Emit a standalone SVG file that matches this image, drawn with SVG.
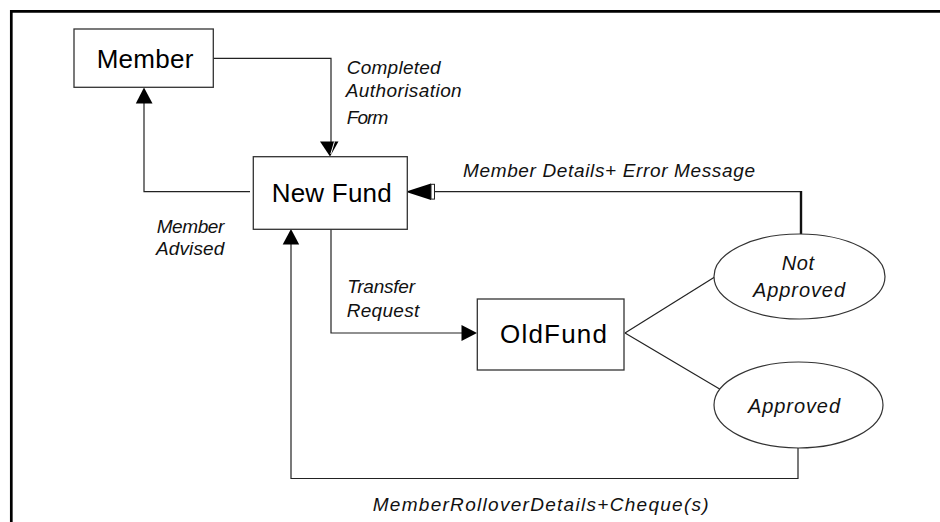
<svg xmlns="http://www.w3.org/2000/svg" width="940" height="522" viewBox="0 0 940 522">
  <style>
    .frame { fill: none; stroke: #000; stroke-width: 2.7; }
    .box { fill: #fff; stroke: #333; stroke-width: 1.3; }
    .oval { fill: #fff; stroke: #333; stroke-width: 1.2; }
    .wire { fill: none; stroke: #222; stroke-width: 1.2; }
    .head { fill: #000; stroke: none; }
    .name { font-family: "Liberation Sans", Arial, sans-serif; font-size: 26px; fill: #000; }
    .flow { font-family: "Liberation Sans", Arial, sans-serif; font-size: 19px; font-style: italic; fill: #111; }
    .state { font-family: "Liberation Sans", Arial, sans-serif; font-size: 20px; font-style: italic; fill: #111; }
  </style>

  <!-- outer frame (top and left edges only) -->
  <path class="frame" d="M11.3,522 V11.3 H940"/>

  <!-- connectors -->
  <g id="connectors">
    <!-- Member -> New Fund -->
    <path class="wire" d="M213,58.3 H331 V142"/>
    <polygon class="head" points="320,141.5 338.5,141.5 330,156.5"/>
    <line x1="334.5" y1="141.5" x2="330.8" y2="154" stroke="#fff" stroke-width="1"/>

    <!-- New Fund -> Member -->
    <path class="wire" d="M250,191.7 H144 V103"/>
    <polygon class="head" points="144,87.5 135.8,103.5 152.5,103.5"/>

    <!-- New Fund -> OldFund -->
    <path class="wire" d="M331,229 V333 H462"/>
    <polygon class="head" points="477,333 461.5,325 461.5,341"/>

    <!-- Not Approved -> New Fund -->
    <path class="wire" d="M801,191.7 H434"/>
    <line x1="801" y1="191" x2="801" y2="234" stroke="#111" stroke-width="2.4"/>
    <polygon class="head" points="405.5,191.7 431,183.5 431,200"/>
    <rect x="431" y="184.3" width="3.5" height="14.8" fill="#fff" stroke="#222" stroke-width="1"/>

    <!-- Approved -> New Fund -->
    <path class="wire" d="M798,448 V478.5 H291 V244"/>
    <polygon class="head" points="291,229 282.7,244.5 299.2,244.5"/>

    <!-- OldFund to outcomes -->
    <line class="wire" x1="625" y1="333" x2="714.3" y2="277.3"/>
    <line class="wire" x1="625" y1="333" x2="720" y2="389.3"/>
  </g>

  <!-- nodes -->
  <g id="member">
    <rect class="box" x="74" y="29" width="139.3" height="58.3"/>
    <text class="name" x="96.7" y="68.3" textLength="96.6">Member</text>
  </g>

  <g id="new-fund">
    <rect class="box" x="253.3" y="156.7" width="154" height="72.6"/>
    <text class="name" x="271.7" y="202" textLength="120">New Fund</text>
  </g>

  <g id="old-fund">
    <rect class="box" x="477.3" y="299" width="146.7" height="71"/>
    <text class="name" x="500" y="343" textLength="107">OldFund</text>
  </g>

  <g id="not-approved">
    <ellipse class="oval" cx="799.5" cy="276.5" rx="85.5" ry="42.5"/>
    <text class="state" x="781.7" y="270" textLength="32.3">Not</text>
    <text class="state" x="753" y="297" textLength="92">Approved</text>
  </g>

  <g id="approved">
    <ellipse class="oval" cx="798.5" cy="405" rx="84.5" ry="43"/>
    <text class="state" x="748" y="413" textLength="92">Approved</text>
  </g>

  <!-- flow labels -->
  <g id="labels">
    <text class="flow" x="346.7" y="74" textLength="94">Completed</text>
    <text class="flow" x="345.7" y="97.3" textLength="116">Authorisation</text>
    <text class="flow" x="346.7" y="124" textLength="41.6">Form</text>
    <text class="flow" x="156.7" y="233.3" textLength="67.6">Member</text>
    <text class="flow" x="156" y="255" textLength="68.3">Advised</text>
    <text class="flow" x="463" y="176.7" textLength="292">Member Details+ Error Message</text>
    <text class="flow" x="347.3" y="293.3" textLength="67.7">Transfer</text>
    <text class="flow" x="346.7" y="316.7" textLength="72.6">Request</text>
    <text class="flow" x="372.7" y="510.7" textLength="336">MemberRolloverDetails+Cheque(s)</text>
  </g>
</svg>
